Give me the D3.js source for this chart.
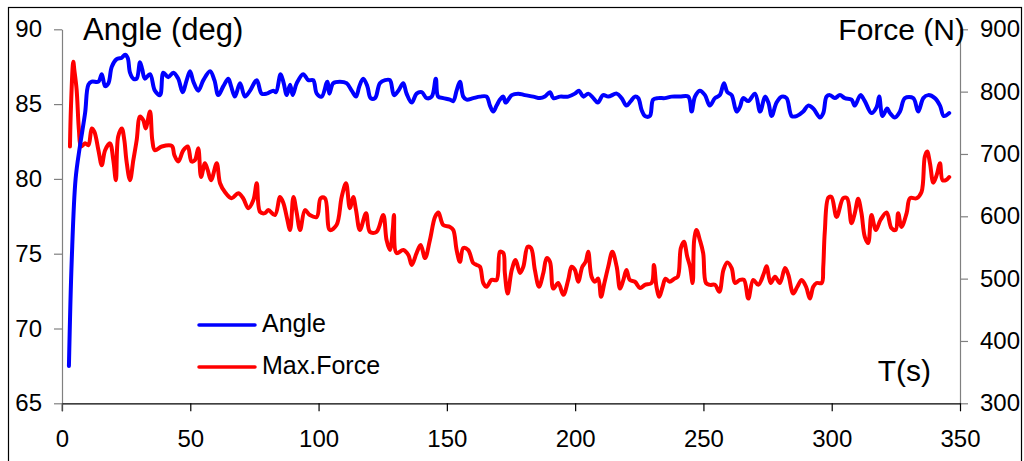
<!DOCTYPE html>
<html>
<head>
<meta charset="utf-8">
<script src="https://cdn.jsdelivr.net/npm/d3@7"></script>
<style>
  body { margin: 0; background: #fff; }
  svg { display: block; font-family: "Liberation Sans", Arial, sans-serif; }
</style>
</head>
<body>
<div id="chart"></div>
<script>
// time (s) and angle (deg)
let angleT = [2.7,3.8,5.3,7.0,9.0,10.3,11.6,14.2,15.5,16.8,18.1,19.4,21.3,23.3,24.6,25.6,26.5,27.8,29.1,30.4,31.3,32.3,34.3,36.2,38.2,39.5,41.4,43.4,45.3,47.0,48.6,49.9,51.2,53.1,55.1,57.7,59.4,60.9,62.9,64.8,65.9,67.4,69.4,71.3,73.3,75.9,77.8,79.8,82.4,83.4,85.2,86.4,87.6,88.9,89.9,91.5,94.0,96.0,97.9,99.3,101.2,103.4,104.2,105.7,108.3,110.9,112.9,114.6,115.9,117.4,119.0,120.3,122.0,123.9,125.9,127.8,129.4,131.1,133.0,134.3,136.3,138.2,140.2,142.1,144.1,145.7,146.6,148.6,151.2,152.5,153.8,155.1,156.4,157.7,160.3,162.9,165.5,166.8,168.1,169.4,170.7,172.0,172.9,175.3,177.8,180.4,183.7,186.3,188.2,190.2,191.5,194.1,197.3,199.9,201.5,203.2,205.1,207.1,208.8,210.9,212.9,216.2,218.1,220.0,221.7,223.3,224.6,225.9,227.2,229.1,230.4,232.4,235.0,237.6,240.8,244.1,245.4,246.7,248.6,250.6,252.5,254.5,256.4,258.0,259.3,261.0,262.9,264.2,265.5,267.5,270.1,272.1,274.0,275.3,276.6,278.5,280.5,282.4,284.4,286.3,288.9,290.8,292.8,295.4,296.7,298.0,299.3,301.2,303.2,305.1,307.7,309.0,311.2,312.9,315.5,317.5,318.5,319.8,321.6,322.7,324.6,326.6,328.5,331.8,333.7,335.7,337.6,340.2,342.2,343.7,345.8];
let angleV = [67.5,74.6,80.0,82.2,84.4,86.3,86.5,86.5,87.0,86.2,86.4,87.5,88.0,88.1,88.3,88.1,87.1,86.7,86.7,87.8,87.3,86.7,87.0,85.9,85.6,87.1,86.8,87.1,86.7,85.8,86.6,87.2,86.5,85.9,86.6,87.2,86.6,85.6,86.2,86.7,86.2,85.5,86.4,85.5,85.9,86.6,85.7,85.7,85.9,85.8,87.0,86.4,85.6,86.3,85.6,86.4,87.0,86.6,86.6,85.7,85.5,86.5,85.7,86.4,86.5,86.4,85.9,85.5,86.2,86.7,86.2,85.4,85.4,86.4,86.6,86.6,85.6,85.9,86.4,85.7,85.1,85.7,85.8,85.4,85.5,86.7,85.5,85.4,85.3,85.2,85.9,86.5,85.5,85.3,85.4,85.5,85.5,84.9,84.5,84.9,85.3,85.5,85.1,85.6,85.7,85.6,85.5,85.4,85.5,85.8,85.4,85.5,85.5,85.7,85.9,85.5,85.7,85.4,85.1,85.6,85.5,85.7,85.4,84.9,85.2,85.5,85.4,84.6,84.2,84.2,85.3,85.4,85.4,85.5,85.5,85.5,84.5,85.5,85.9,85.6,84.9,85.4,85.6,86.4,85.8,85.6,84.5,84.8,85.4,85.2,85.7,84.5,85.5,85.1,84.2,85.1,85.5,85.4,84.2,84.2,84.5,84.9,84.7,84.1,84.4,85.5,85.6,85.4,85.6,85.4,85.3,84.9,85.6,85.2,84.4,84.8,85.5,84.2,84.7,84.4,84.1,84.5,85.4,85.4,84.5,85.4,85.6,85.4,84.9,84.2,84.4];

// time (s) and max force (N)
let forceT = [3.1,3.5,4.4,4.8,5.7,6.6,7.4,9.0,10.3,11.6,12.6,14.2,15.5,16.8,18.7,20.0,21.0,21.9,23.3,24.3,25.1,26.5,27.8,29.1,30.4,31.7,32.6,34.3,35.2,36.2,38.9,42.8,43.8,45.3,47.3,49.0,50.5,51.8,53.1,54.2,55.7,56.8,58.1,60.3,61.6,63.5,66.1,68.7,70.6,72.6,74.6,75.9,77.2,79.1,80.4,83.0,85.0,86.3,87.6,88.9,90.2,91.5,92.8,94.7,96.6,99.3,100.8,102.5,104.4,107.0,109.0,110.7,112.2,113.5,114.6,116.1,118.5,120.0,122.6,125.2,126.5,127.8,128.9,129.4,130.4,133.0,135.0,136.3,138.2,139.8,141.5,143.4,145.4,146.7,148.6,151.2,152.5,153.8,155.1,156.4,158.3,160.3,161.6,162.9,164.2,165.5,167.4,169.4,170.7,172.0,172.6,173.7,175.3,176.8,178.5,179.8,181.5,182.8,184.3,185.9,187.6,188.9,190.2,191.5,193.4,195.4,197.3,198.6,199.9,201.2,202.8,204.1,205.1,206.4,207.7,209.0,210.1,211.4,212.9,214.5,216.2,217.5,218.8,220.0,221.3,223.3,225.3,227.2,229.8,230.7,231.7,232.8,234.1,235.2,236.8,238.7,240.0,241.2,242.4,243.7,244.8,245.8,246.4,247.3,248.6,249.9,251.0,252.5,254.5,256.2,257.8,259.3,261.0,262.3,264.2,265.8,267.5,269.4,271.4,273.6,274.6,276.2,277.9,279.8,281.8,283.1,285.0,286.6,288.3,290.0,291.5,292.8,294.1,296.1,296.7,297.3,298.7,299.9,301.9,304.5,306.0,307.7,309.0,310.3,311.6,312.9,314.2,315.5,317.2,319.0,321.4,323.3,324.9,325.9,327.2,329.2,330.5,333.1,335.0,336.3,337.2,338.3,339.6,340.9,342.2,343.2,344.5,345.8];
let forceV = [712,776,848,835,803,738,712,717,714,741,736,706,682,706,717,690,658,728,741,722,690,658,690,722,760,754,741,768,722,706,712,713,698,688,706,712,688,690,709,663,685,674,658,685,653,639,629,637,629,613,626,653,607,605,610,602,631,621,599,578,631,605,578,610,602,599,629,629,578,586,631,653,613,631,610,578,605,575,575,602,562,546,578,602,541,546,538,522,541,554,533,562,599,606,586,583,578,546,527,549,546,525,522,519,493,487,498,498,543,541,509,476,514,530,509,519,551,549,514,487,509,533,527,484,493,474,498,519,514,495,519,527,543,503,495,500,471,493,519,543,519,484,498,514,498,495,485,490,493,522,487,471,487,500,495,500,503,549,559,535,519,493,562,578,562,541,493,490,490,479,514,526,517,493,498,498,468,498,490,509,520,493,503,493,517,506,476,487,498,487,468,487,493,493,519,575,630,631,599,629,629,589,605,628,605,567,557,602,578,594,606,581,578,605,583,605,629,629,639,696,704,685,654,666,685,658,658,663];

let xTicks = [0,50,100,150,200,250,300,350];
let angleTicks = [65,70,75,80,85,90];
let forceTicks = [300,400,500,600,700,800,900];

let width = 1024, height = 461;
let plotLeft = 62, plotRight = 960, plotTop = 29.3, plotBottom = 403.3;

let svg = d3.select("#chart").append("svg")
  .attr("width", width)
  .attr("height", height);

// outer frame
svg.append("rect")
  .attr("x", 8.5).attr("y", 7.5)
  .attr("width", 1013).attr("height", 470)
  .attr("fill", "none")
  .attr("stroke", "#000")
  .attr("stroke-width", 1.2);

let x = d3.scaleLinear().domain([0, 350]).range([plotLeft, plotRight]);
let yA = d3.scaleLinear().domain([65, 90]).range([plotBottom, plotTop]);
let yF = d3.scaleLinear().domain([300, 900]).range([plotBottom, plotTop]);

let styleAxis = (g, col) => {
  g.select(".domain").attr("stroke", col).attr("stroke-width", 1.2);
  g.selectAll(".tick line").attr("stroke", col).attr("stroke-width", 1.2);
  g.selectAll(".tick text").attr("fill", "#000").style("font-size", "24px")
    .style("font-family", "'Liberation Sans', Arial, sans-serif");
}

// left axis (angle)
let gL = svg.append("g")
  .attr("transform", "translate(" + plotLeft + ",0)")
  .call(d3.axisLeft(yA).tickValues(angleTicks).tickSize(8).tickSizeOuter(0).tickPadding(12));
styleAxis(gL, "#808080");

// right axis (force)
let gR = svg.append("g")
  .attr("transform", "translate(" + plotRight + ",0)")
  .call(d3.axisRight(yF).tickValues(forceTicks).tickSize(8).tickSizeOuter(0).tickPadding(12));
styleAxis(gR, "#808080");

// bottom axis
let gB = svg.append("g")
  .attr("transform", "translate(0," + plotBottom + ")")
  .call(d3.axisBottom(x).tickValues(xTicks).tickSize(8).tickSizeOuter(0).tickPadding(12));
styleAxis(gB, "#000");
gB.selectAll(".tick text").attr("dy", "0.71em").attr("y", 27);
// left axis continues to the x=0 tick bottom
svg.append("line")
  .attr("x1", plotLeft).attr("x2", plotLeft)
  .attr("y1", plotBottom).attr("y2", plotBottom + 8)
  .attr("stroke", "#808080").attr("stroke-width", 1.2);

let angleData = angleT.map((t, i) => ({t: t, v: angleV[i]}));
let forceData = forceT.map((t, i) => ({t: t, v: forceV[i]}));

// smoothed lines like the original spreadsheet chart
let lineA = d3.line().curve(d3.curveCatmullRom.alpha(0.5)).x(d => x(d.t)).y(d => yA(d.v));
let lineF = d3.line().curve(d3.curveCatmullRom.alpha(0.5)).x(d => x(d.t)).y(d => yF(d.v));

svg.append("path")
  .datum(forceData)
  .attr("d", lineF)
  .attr("fill", "none")
  .attr("stroke", "#ff0000")
  .attr("stroke-width", 4)
  .attr("stroke-linejoin", "round")
  .attr("stroke-linecap", "round");

svg.append("path")
  .datum(angleData)
  .attr("d", lineA)
  .attr("fill", "none")
  .attr("stroke", "#0000ff")
  .attr("stroke-width", 4)
  .attr("stroke-linejoin", "round")
  .attr("stroke-linecap", "round");

// axis titles
svg.append("text").attr("x", 83).attr("y", 40)
  .style("font-size", "31px").text("Angle (deg)");
svg.append("text").attr("x", 965).attr("y", 40)
  .attr("text-anchor", "end")
  .style("font-size", "30px").text("Force (N)");
svg.append("text").attr("x", 931).attr("y", 381)
  .attr("text-anchor", "end")
  .style("font-size", "30px").text("T(s)");

// legend
let legend = [{name: "Angle", color: "#0000ff", y: 325}, {name: "Max.Force", color: "#ff0000", y: 367}];
let lg = svg.append("g").selectAll("g").data(legend).enter().append("g");
lg.append("line")
  .attr("x1", 199).attr("x2", 255)
  .attr("y1", d => d.y).attr("y2", d => d.y)
  .attr("stroke", d => d.color)
  .attr("stroke-width", 3.5)
  .attr("stroke-linecap", "round");
lg.append("text")
  .attr("x", 262).attr("y", d => d.y + 7)
  .style("font-size", "25px")
  .text(d => d.name);
</script>
</body>
</html>
